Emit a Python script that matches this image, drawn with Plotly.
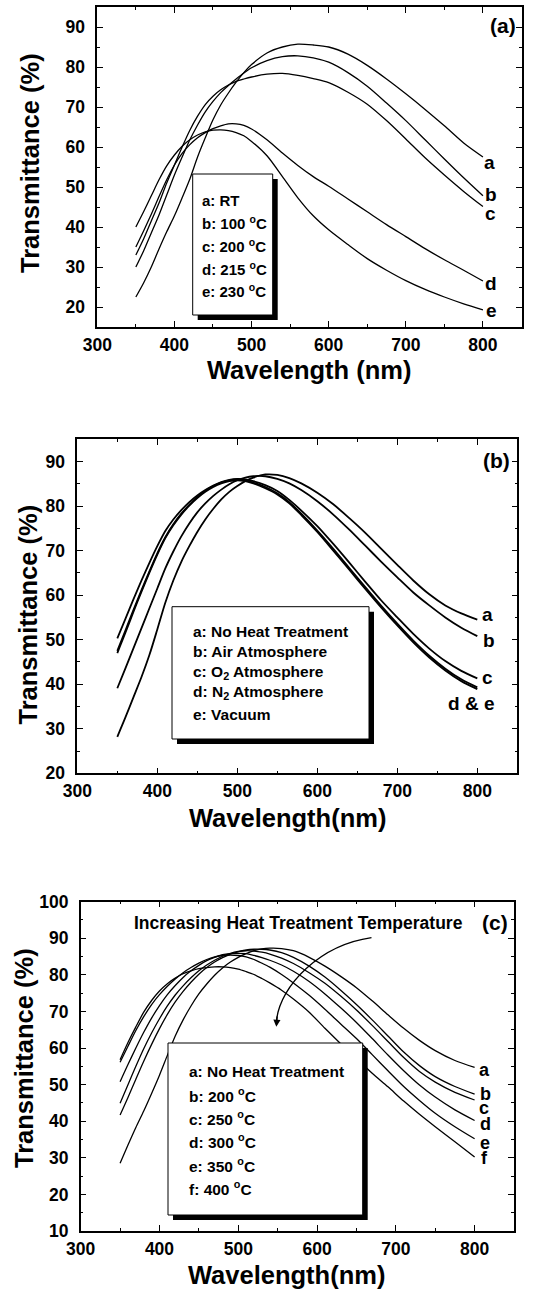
import plotly.graph_objects as go

W, H = 539, 1291
FONT = "Liberation Sans, Arial, sans-serif"

# ---------------- Panel (a): annealing temperature ----------------
WL_A = [350, 360, 370, 380, 390, 400, 410, 420, 430, 440, 450, 460, 470, 480, 490, 500,
        520, 540, 560, 580, 600, 625, 650, 675, 700, 725, 750, 775, 800]
A_RT = [22.5, 26, 30, 34.5, 38.8, 42.8, 47.3, 52, 57.5, 62.3, 66.8, 70.5, 73.5, 76.2, 78.6, 80.6,
        83.5, 85, 85.7, 85.5, 85, 83.2, 80.4, 77, 73.3, 69.4, 65.3, 61, 57.5]
A_100 = [30, 34, 38.5, 43, 48, 53, 57.5, 61.8, 65.5, 68.8, 71.4, 73.6, 75.4, 77, 78.5, 79.8,
         81.6, 82.6, 82.8, 82.3, 81.2, 78.6, 75.2, 71, 66.6, 61.8, 57, 52.3, 47.8]
A_200 = [33, 37, 41.5, 46, 51, 55.5, 60, 64.2, 67.7, 70.6, 72.7, 74.3, 75.5, 76.4, 77, 77.5,
         78.2, 78.4, 77.9, 77.1, 76.1, 73.7, 70.7, 66.6, 62, 57.3, 53, 48.9, 45.1]
A_215 = [35, 39, 43.2, 47.6, 51.8, 55.5, 58.4, 60.6, 62.3, 63.6, 64.6, 65.3, 65.8, 65.8, 65.4, 64.5,
         61.8, 58.5, 55.4, 52.6, 50.2, 47, 43.8, 40.6, 37.6, 34.6, 31.8, 29.2, 26.5]
A_230 = [40, 43.8, 47.8, 51.8, 55.3, 58, 60.2, 61.8, 63, 63.8, 64.2, 64.3, 64.1, 63.6, 62.8, 61.4,
         57.8, 52.6, 47.3, 42.8, 39.3, 35.6, 32.1, 29.2, 26.6, 24.4, 22.5, 20.8, 19.3]
A_LETTERS = ["a", "b", "c", "d", "e"]
A_LEGEND = ["a: RT", "b: 100 <sup>o</sup>C", "c: 200 <sup>o</sup>C",
            "d: 215 <sup>o</sup>C", "e: 230 <sup>o</sup>C"]

# ---------------- Panel (b): annealing atmosphere ----------------
WL_B = [350, 360, 370, 380, 390, 400, 410, 420, 430, 440, 450, 460, 470, 480, 490, 500, 510,
        520, 535, 550, 565, 580, 600, 620, 640, 660, 680, 700, 720, 740, 760, 780, 800]
B_NONE = [28.2, 32.5, 37, 41.5, 46.5, 52.3, 58.3, 63.3, 67.5, 71, 74.2, 77, 79.4, 81.5, 83.2, 84.5, 85.6,
          86.4, 87.1, 87, 86.3, 85.1, 83, 80.4, 77.3, 74, 70.4, 66.8, 63.3, 60.2, 57.7, 55.9, 54.5]
B_AIR = [39.1, 43.5, 48, 52.5, 57, 61.5, 66, 69.8, 73.2, 76.1, 78.6, 80.6, 82.3, 83.7, 84.9, 85.8, 86.4,
         86.7, 86.7, 86.1, 85.1, 83.6, 81.1, 78.1, 74.7, 71.1, 67.5, 64, 60.6, 57.7, 55, 52.7, 50.8]
B_O2 = [50.3, 54.6, 59, 63.2, 67.2, 71, 74.4, 77, 79.1, 80.9, 82.4, 83.6, 84.6, 85.4, 85.9, 86.1, 86,
        85.6, 84.7, 83.4, 81.4, 79, 75.5, 71.5, 67.3, 63, 58.8, 55, 51.3, 48, 45.2, 43, 41.3]
B_N2 = [47.5, 52, 56.6, 61, 65.3, 69.4, 73, 75.9, 78.3, 80.3, 82, 83.4, 84.5, 85.3, 85.8, 86, 85.8,
        85.3, 84.3, 82.9, 80.9, 78.3, 74.5, 70.4, 66.1, 61.8, 57.6, 53.6, 49.8, 46.4, 43.5, 41.1, 39.3]
B_VAC = [47, 51.5, 56.2, 60.7, 65, 69.1, 72.8, 75.7, 78.1, 80.1, 81.8, 83.2, 84.3, 85.1, 85.6, 85.8, 85.6,
         85.1, 84, 82.6, 80.6, 78, 74.2, 70, 65.7, 61.4, 57.2, 53.2, 49.4, 46, 43.1, 40.7, 38.9]
B_LEGEND = ["a: No Heat Treatment", "b: Air Atmosphere", "c: O<sub>2</sub> Atmosphere",
            "d: N<sub>2</sub> Atmosphere", "e: Vacuum"]

# ---------------- Panel (c): heat-treatment temperature ----------------
WL_C = [350, 360, 370, 380, 390, 400, 410, 420, 430, 440, 450, 460, 470, 480, 490, 500, 510,
        520, 530, 540, 555, 570, 590, 610, 630, 650, 670, 690, 710, 730, 750, 775, 800]
C_NONE = [28.5, 33.5, 38.3, 42.8, 47.6, 52.6, 58, 63.3, 67.7, 71.5, 74.8, 77.5, 79.9, 81.9, 83.5, 84.8, 85.8,
          86.6, 87.1, 87.3, 87.2, 86.6, 84.8, 82.4, 79.6, 76.5, 72.9, 69.1, 65.4, 62.1, 59.3, 56.6, 54.7]
C_200 = [41.7, 46.5, 51.5, 56.4, 61, 65.3, 69.2, 72.6, 75.5, 78, 80.2, 82, 83.5, 84.7, 85.7, 86.3, 86.8,
         87, 87, 86.8, 86.1, 84.8, 82.4, 79.4, 75.8, 71.9, 67.7, 63.3, 58.9, 55.2, 52.2, 49.5, 47.4]
C_250 = [44.9, 50, 55, 59.8, 64.1, 68, 71.5, 74.5, 77, 79.2, 81.1, 82.7, 84, 85.1, 85.9, 86.4, 86.6,
         86.5, 86.2, 85.7, 84.6, 83.1, 80.6, 77.7, 74.2, 70.4, 66.2, 61.8, 57.4, 53.6, 50.7, 47.9, 45.8]
C_300 = [50.8, 55.5, 60, 64.3, 68.2, 71.6, 74.6, 77.1, 79.3, 81.1, 82.6, 83.9, 84.8, 85.5, 85.8, 85.9, 85.8,
         85.3, 84.7, 84, 82.7, 81, 78.2, 74.8, 71, 67, 62.6, 58.1, 53.8, 49.9, 46.6, 43.1, 40.2]
C_350 = [56.1, 60.5, 64.8, 68.6, 71.9, 74.6, 76.9, 78.9, 80.6, 82, 83.2, 84.2, 84.9, 85.3, 85.4, 85.3, 84.9,
         84.2, 83.2, 82.1, 80.1, 77.8, 74.4, 70.6, 66.6, 62.6, 58.2, 53.8, 49.5, 45.7, 42.2, 38.5, 35.2]
C_400 = [56.8, 61.5, 65.8, 69.8, 73, 75.6, 77.6, 79.1, 80.3, 81.1, 81.7, 82, 82.2, 82.2, 82, 81.6, 80.9,
         80.1, 79, 77.8, 75.8, 73.4, 69.8, 65.4, 61.2, 57.2, 53.1, 49.4, 45.5, 41.9, 38.5, 34.4, 30.2]
C_LETTERS = ["a", "b", "c", "d", "e", "f"]
C_LEGEND = ["a: No Heat Treatment", "b: 200 <sup>o</sup>C", "c: 250 <sup>o</sup>C",
            "d: 300 <sup>o</sup>C", "e: 350 <sup>o</sup>C", "f: 400 <sup>o</sup>C"]

X_TICKS = [300, 400, 500, 600, 700, 800]


def px(x):
    return x / W


def py(y):
    return 1 - y / H


fig = go.Figure()

LINE = dict(color="black", shape="spline", smoothing=0.8)
for ys in [A_RT, A_100, A_200, A_215, A_230]:
    fig.add_trace(go.Scatter(x=WL_A, y=ys, mode="lines", line=dict(LINE, width=1.3),
                             xaxis="x", yaxis="y", showlegend=False))
for ys in [B_NONE, B_AIR, B_O2, B_N2, B_VAC]:
    fig.add_trace(go.Scatter(x=WL_B, y=ys, mode="lines", line=dict(LINE, width=1.8),
                             xaxis="x2", yaxis="y2", showlegend=False))
for ys in [C_NONE, C_200, C_250, C_300, C_350, C_400]:
    fig.add_trace(go.Scatter(x=WL_C, y=ys, mode="lines", line=dict(LINE, width=1.3),
                             xaxis="x3", yaxis="y3", showlegend=False))


def xax(dom, anchor):
    return dict(domain=dom, anchor=anchor, range=[300, 850], tickvals=X_TICKS, automargin=False,
                showline=True, linecolor="black", linewidth=1.5, mirror="allticks",
                ticks="inside", ticklen=6, tickwidth=1.2, tickcolor="black",
                minor=dict(ticks="inside", ticklen=3, dtick=50, tick0=300, tickcolor="black", tickwidth=1.2),
                showgrid=False, zeroline=False, ticklabelstandoff=1,
                tickfont=dict(family=FONT, size=17.5, color="black", weight="bold"))


def yax(dom, anchor, rng, tv):
    return dict(domain=dom, anchor=anchor, range=rng, tickvals=tv, automargin=False,
                showline=True, linecolor="black", linewidth=1.5, mirror="allticks",
                ticks="inside", ticklen=6, tickwidth=1.2, tickcolor="black",
                minor=dict(ticks="inside", ticklen=3, dtick=5, tick0=0, tickcolor="black", tickwidth=1.2),
                showgrid=False, zeroline=False, ticklabelstandoff=7,
                tickfont=dict(family=FONT, size=17.5, color="black", weight="bold"))


fig.update_layout(
    width=W, height=H, margin=dict(l=0, r=0, t=0, b=0, autoexpand=False),
    paper_bgcolor="white", plot_bgcolor="white",
    font=dict(family=FONT, color="black", weight="bold"),
    xaxis=xax([px(97.3), px(521.5)], "y"),
    yaxis=yax([py(327), py(7)], "x", [15, 95], list(range(20, 91, 10))),
    xaxis2=xax([px(77.3), px(517.3)], "y2"),
    yaxis2=yax([py(773.3), py(439.3)], "x2", [20, 95], list(range(20, 91, 10))),
    xaxis3=xax([px(80.7), px(514)], "y3"),
    yaxis3=yax([py(1231), py(901.7)], "x3", [10, 100], list(range(10, 101, 10))),
)

ann = []
shapes = []


def text(x, y, t, size, xref="paper", yref="paper", xanchor="center", angle=0):
    ann.append(dict(x=x, y=y, xref=xref, yref=yref, text=t, showarrow=False, xanchor=xanchor,
                    yanchor="middle", textangle=angle,
                    font=dict(family=FONT, size=size, color="black", weight="bold")))


# axis titles
text(px(30), py(163), "Transmittance (%)", 25.5, angle=-90)
text(px(309), py(370), "Wavelength (nm)", 25.5)
text(px(27.5), py(615), "Transmittance (%)", 25.5, angle=-90)
text(px(287.5), py(818), "Wavelength(nm)", 25.5)
text(px(24), py(1058), "Transmittance (%)", 25.5, angle=-90)
text(px(286), py(1275), "Wavelength(nm)", 25.5)

# panel labels
text(px(503), py(25), "(a)", 21)
text(px(496.7), py(460), "(b)", 21)
text(px(495), py(922), "(c)", 21)

# curve end letters (data coords)
for t, (x, y) in zip(A_LETTERS, [(809, 56.2), (811, 48.1), (810, 43.5), (811, 26.0), (811, 19.2)]):
    text(x, y, t, 19, "x", "y")
for t, (x, y) in zip(["a", "b", "c", "d & e"], [(813, 55.6), (814, 49.8), (813, 41.6), (792.5, 35.6)]):
    text(x, y, t, 19, "x2", "y2")
for t, (x, y) in zip(C_LETTERS, [(812, 54.0), (814, 47.4), (812, 43.7), (814, 39.2), (813, 34.0), (813, 30.0)]):
    text(x, y, t, 18, "x3", "y3")


def legend_box(x0, y0, x1, y1, lines, tx, ty, size):
    shapes.append(dict(type="rect", xref="paper", yref="paper", x0=px(x0 + 5), x1=px(x1 + 5),
                       y0=py(y1 + 5), y1=py(y0 + 5), fillcolor="black", line=dict(width=0), layer="above"))
    shapes.append(dict(type="rect", xref="paper", yref="paper", x0=px(x0), x1=px(x1),
                       y0=py(y1), y1=py(y0), fillcolor="white", line=dict(color="black", width=1),
                       layer="above"))
    for t, yy in zip(lines, ty):
        text(px(tx), py(yy), t, size, xanchor="left")


legend_box(192.7, 174, 272.7, 315, A_LEGEND, 200, [200, 222.5, 245, 268, 290.5], 15)
legend_box(172, 606.7, 369, 739, B_LEGEND, 191, [631, 651.5, 672, 692.5, 714], 15.5)
legend_box(168, 1043, 362.7, 1215, C_LEGEND, 187, [1071, 1094.5, 1118, 1141, 1164.5, 1188], 15.5)

# annotation with curved arrow in panel (c)
text(px(298.7), py(922.5), "Increasing Heat Treatment Temperature", 17.5)
shapes.append(dict(type="path", xref="x3", yref="y3",
                   path="M 669.1,90.16 C 604.2,88.17 553.4,77.23 548.5,67.5",
                   line=dict(color="black", width=1.3), layer="above"))
ann.append(dict(x=548.3, y=65.8, xref="x3", yref="y3", text="", showarrow=True, ax=1, ay=-12,
                arrowhead=2, arrowsize=1.1, arrowwidth=1.3, arrowcolor="black"))

fig.update_layout(annotations=ann, shapes=shapes)
fig.write_html("out.html")
